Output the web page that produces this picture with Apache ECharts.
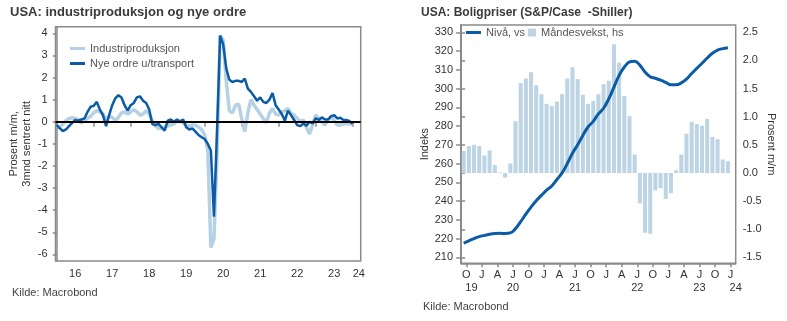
<!DOCTYPE html>
<html><head><meta charset="utf-8">
<script src="https://cdn.jsdelivr.net/npm/echarts@6/dist/echarts.min.js"></script>
<style>html,body{margin:0;padding:0;background:#fff}#c{width:787px;height:321px}</style>
</head><body><div id="c"></div>
<script>
// ---------- Left chart data (monthly, Jan 2016 .. Jan 2024) ----------
const leftStartYear = 2016;
const industriproduksjon = [
 -0.20,-0.25,-0.10,0.05,0.15,0.18,0.15,0.10,-0.05,0.05,0.15,0.25,
 0.40,0.50,0.45,0.35,0.10,0.25,0.20,0.05,0.20,0.40,0.45,0.35,
 0.45,0.55,0.45,0.30,0.35,0.50,0.35,0.05,-0.20,-0.30,-0.30,-0.25,
 -0.20,-0.15,-0.10,0.05,0.05,-0.05,-0.15,-0.20,-0.15,-0.15,-0.25,-0.35,
 -0.60,-1.30,-5.70,-5.30,-1.50,3.90,3.70,1.80,0.50,0.40,0.75,0.80,
 0.15,-0.45,0.40,1.00,0.75,0.55,0.35,0.15,-0.05,0.40,0.60,0.35,
 0.30,0.45,0.50,0.60,0.38,0.30,0.15,0.00,0.08,-0.25,-0.55,-0.15,
 0.30,0.15,0.00,-0.15,0.08,0.23,0.05,-0.15,-0.15,-0.10,-0.08,-0.10,
 -0.08
];
const nyeOrdre = [
 -0.15,-0.30,-0.42,-0.35,-0.20,-0.05,0.08,0.05,0.10,0.15,0.45,0.68,
 0.72,0.90,0.55,0.30,-0.20,0.30,0.75,1.06,1.20,1.10,0.75,0.50,
 0.75,0.85,1.10,1.15,0.95,0.85,0.55,-0.10,-0.15,-0.10,-0.25,-0.40,
 0.05,0.10,0.00,0.10,0.00,0.10,-0.25,-0.35,-0.30,-0.45,-0.60,-0.70,
 -0.78,-1.00,-1.30,-4.30,-0.40,3.90,3.50,2.40,1.90,1.80,1.85,1.85,
 1.80,1.95,1.50,1.35,1.15,0.95,1.10,0.90,0.85,1.00,1.30,0.75,
 0.55,0.35,0.05,0.50,0.30,0.08,-0.15,-0.20,-0.08,-0.18,0.00,-0.08,
 0.15,0.08,0.20,0.10,0.10,0.25,0.30,0.15,0.18,0.08,0.08,0.03,
 -0.10
];
const leftYearLabels = ['16','17','18','19','20','21','22','23','24'];
const leftYTicks = [-6,-5,-4,-3,-2,-1,0,1,2,3,4];

// ---------- Right chart data (monthly, Sep 2019 .. Dec 2023) ----------
const rightStart = {year: 2019, month: 8}; // Sep 2019 (0-based month)
const nivaa = [
 217.5,218.8,220.0,221.0,221.7,222.3,222.7,222.8,222.7,223.0,
 225.3,229.0,233.0,236.8,240.2,243.0,245.8,248.0,251.5,255.0,
 260.0,265.5,270.0,275.0,279.5,282.5,286.5,289.5,294.5,300.8,
 307.0,311.5,314.2,314.6,312.5,308.8,306.3,305.5,304.5,303.3,
 302.0,302.0,303.0,305.0,308.0,310.8,313.5,316.3,318.8,320.5,321.3,321.8
];
const maanedsvekst = [
 0.39,0.48,0.50,0.48,0.31,0.40,0.14,0.01,-0.08,0.17,
 0.92,1.60,1.68,1.79,1.56,1.40,1.23,1.19,1.27,1.40,
 1.68,1.88,1.67,1.39,1.23,1.28,1.40,1.58,1.64,2.29,
 1.96,1.37,1.01,0.33,-0.54,-1.06,-1.08,-0.31,-0.27,-0.46,
 -0.36,0.05,0.33,0.70,0.91,0.87,0.84,0.96,0.64,0.60,0.24,0.21
];
const leftIndexTicks = [210,220,230,240,250,260,270,280,290,300,310,320,330];
const rightPctTicks = [-1.5,-1.0,-0.5,0.0,0.5,1.0,1.5,2.0,2.5];
const monthLetters = ['J','F','M','A','M','J','J','A','S','O','N','D'];

// ---------- derived ----------
const nRightCats = maanedsvekst.length + 1; // Sep 2019 .. Jan 2024
const rightCats = [];
for (let k = 0; k < nRightCats; k++) {
  const mm = rightStart.month + k;
  rightCats.push((rightStart.year + Math.floor(mm / 12)) + '-' + String(mm % 12 + 1).padStart(2, '0'));
}
const boundaryMonth = k => (rightStart.month + k) % 12;
const boundaryYear = k => rightStart.year + Math.floor((rightStart.month + k) / 12);
const quarterBoundaries = [];
for (let k = 0; k <= nRightCats; k++) if (boundaryMonth(k) % 3 === 0) quarterBoundaries.push(k);
const yearLabelPos = [2];
for (let k = 0; k <= nRightCats; k++) if (boundaryMonth(k) === 6) yearLabelPos.push(k);
yearLabelPos.push(nRightCats);
const yearLabelText = v => {
  if (v >= nRightCats) return String(boundaryYear(nRightCats - 1)).slice(2);
  return String(boundaryYear(v)).slice(2);
};

const leftYearTicks = leftYearLabels.map((_, i) => i * 12);
const leftYearLabelPos = leftYearLabels.map((_, i) => i < leftYearLabels.length - 1 ? i * 12 + 6 : i * 12 + 2);

const FONT = 'Liberation Sans, Arial, sans-serif';
const TXT = '#333';
const AX = '#8a8a8a';
const DARK = '#0b5ca6';
const LIGHT = '#b5d1e3';
const BAR = '#bcd4e3';

const chart = echarts.init(document.getElementById('c'), null, {renderer: 'canvas'});
const axisCommon = {
  axisLine: {show: true, lineStyle: {color: AX, width: 1.5}},
  splitLine: {show: false},
};

chart.setOption({
  animation: false,
  textStyle: {fontFamily: FONT},
  title: [
    {text: 'USA: industriproduksjon og nye ordre', left: 10, top: 6, padding: 0,
     textStyle: {fontSize: 13, fontWeight: 'bold', color: '#3a3a3a', fontFamily: FONT}},
    {text: 'USA: Boligpriser (S&P/Case  -Shiller)', left: 421, top: 7, padding: 0,
     textStyle: {fontSize: 12, fontWeight: 'bold', color: '#3a3a3a', fontFamily: FONT}},
    {text: 'Kilde: Macrobond', left: 12, top: 287, padding: 0,
     textStyle: {fontSize: 11, fontWeight: 'normal', color: '#444', fontFamily: FONT}},
    {text: 'Kilde: Macrobond', left: 423, top: 301, padding: 0,
     textStyle: {fontSize: 11, fontWeight: 'normal', color: '#444', fontFamily: FONT}}
  ],
  legend: [
    {orient: 'vertical', left: 70, top: 43, padding: 0, itemGap: 4, itemWidth: 15, itemHeight: 3,
     icon: 'rect', data: ['Industriproduksjon', 'Nye ordre u/transport'],
     textStyle: {fontSize: 11, color: '#555', fontFamily: FONT}},
    {left: 466, top: 27, padding: 0, itemWidth: 15, itemHeight: 3, icon: 'rect',
     data: ['Nivå, vs'], textStyle: {fontSize: 11, color: '#555', fontFamily: FONT}},
    {left: 528, top: 27, padding: 0, itemWidth: 8, itemHeight: 8, icon: 'rect',
     data: ['Måndesvekst, hs'], textStyle: {fontSize: 11, color: '#555', fontFamily: FONT}}
  ],
  grid: [
    {left: 55.5, right: 787 - 360.7, top: 26.7, bottom: 321 - 261, show: true,
     borderColor: AX, borderWidth: 1.5, backgroundColor: 'transparent'},
    {left: 461.1, right: 787 - 735.7, top: 25, bottom: 321 - 263.3, show: true,
     borderColor: AX, borderWidth: 1.5, backgroundColor: 'transparent'}
  ],
  xAxis: [
    Object.assign({}, axisCommon, {
      type: 'value', gridIndex: 0, min: -0.4, max: 98.6, position: 'bottom',
      axisTick: {show: true, length: 5, lineStyle: {color: AX, width: 1.5}, customValues: leftYearTicks},
      axisLabel: {customValues: leftYearLabelPos, margin: 7, fontSize: 11, color: TXT,
        formatter: v => leftYearLabels[Math.floor(v / 12)]}
    }),
    {type: 'category', gridIndex: 1, data: rightCats, boundaryGap: true, position: 'bottom',
     axisLine: {show: false}, axisTick: {show: false}, axisLabel: {show: false}, splitLine: {show: false}},
    Object.assign({}, axisCommon, {
      type: 'value', gridIndex: 1, min: 0, max: nRightCats, position: 'bottom',
      axisTick: {show: true, length: 4, lineStyle: {color: AX, width: 1.5}, customValues: quarterBoundaries},
      axisLabel: {customValues: quarterBoundaries, margin: 6, fontSize: 11, color: TXT,
        formatter: v => monthLetters[boundaryMonth(v)]}
    }),
    {type: 'value', gridIndex: 1, min: 0, max: nRightCats, position: 'bottom',
     axisLine: {show: false}, axisTick: {show: false}, splitLine: {show: false},
     axisLabel: {customValues: yearLabelPos, margin: 19, fontSize: 11, color: TXT, formatter: yearLabelText}}
  ],
  yAxis: [
    Object.assign({}, axisCommon, {
      type: 'value', gridIndex: 0, min: -6.3, max: 4.3,
      name: 'Prosent m/m,\n3mnd sentrert nitt', nameLocation: 'middle', nameGap: 17,
      nameTextStyle: {fontSize: 11, color: TXT, lineHeight: 13},
      axisTick: {show: true, length: 4, lineStyle: {color: AX, width: 1.5}, customValues: leftYTicks},
      axisLabel: {customValues: leftYTicks, margin: 8, fontSize: 11, color: TXT}
    }),
    Object.assign({}, axisCommon, {
      type: 'value', gridIndex: 1, position: 'left', min: 206.8, max: 333.9,
      name: 'Indeks', nameLocation: 'middle', nameGap: 27,
      nameTextStyle: {fontSize: 11, color: TXT},
      axisTick: {show: true, length: 5, lineStyle: {color: AX, width: 1.5}, customValues: leftIndexTicks},
      axisLabel: {customValues: leftIndexTicks, margin: 8, fontSize: 11, color: TXT}
    }),
    Object.assign({}, axisCommon, {
      type: 'value', gridIndex: 1, position: 'right', min: -1.604, max: 2.63,
      name: 'Prosent m/m', nameLocation: 'middle', nameGap: 29, nameRotate: -90,
      nameTextStyle: {fontSize: 11, color: TXT},
      axisTick: {show: true, length: 4, lineStyle: {color: AX, width: 1.5}, customValues: rightPctTicks},
      axisLabel: {customValues: rightPctTicks, margin: 7, fontSize: 11, color: TXT,
        formatter: v => v.toFixed(1)}
    })
  ],
  series: [
    {name: 'Industriproduksjon', type: 'line', xAxisIndex: 0, yAxisIndex: 0,
     data: industriproduksjon.map((v, i) => [i, v]), showSymbol: false, symbol: 'none',
     lineStyle: {color: LIGHT, width: 3.5}, itemStyle: {color: LIGHT}, z: 2},
    {name: 'Nye ordre u/transport', type: 'line', xAxisIndex: 0, yAxisIndex: 0,
     data: nyeOrdre.map((v, i) => [i, v]), showSymbol: false, symbol: 'none',
     lineStyle: {color: DARK, width: 2.5}, itemStyle: {color: DARK}, z: 3,
     markLine: {silent: true, symbol: 'none', label: {show: false},
       lineStyle: {color: '#000', width: 2, type: 'solid'}, data: [{yAxis: 0}], z: 5}},
    {name: 'Måndesvekst, hs', type: 'bar', xAxisIndex: 1, yAxisIndex: 2,
     data: maanedsvekst, barCategoryGap: '22%', itemStyle: {color: BAR}, z: 2},
    {name: 'Nivå, vs', type: 'line', xAxisIndex: 1, yAxisIndex: 1, smooth: 0.4,
     data: nivaa, showSymbol: false, symbol: 'none',
     lineStyle: {color: DARK, width: 3}, itemStyle: {color: DARK}, z: 3}
  ]
});
</script></body></html>
